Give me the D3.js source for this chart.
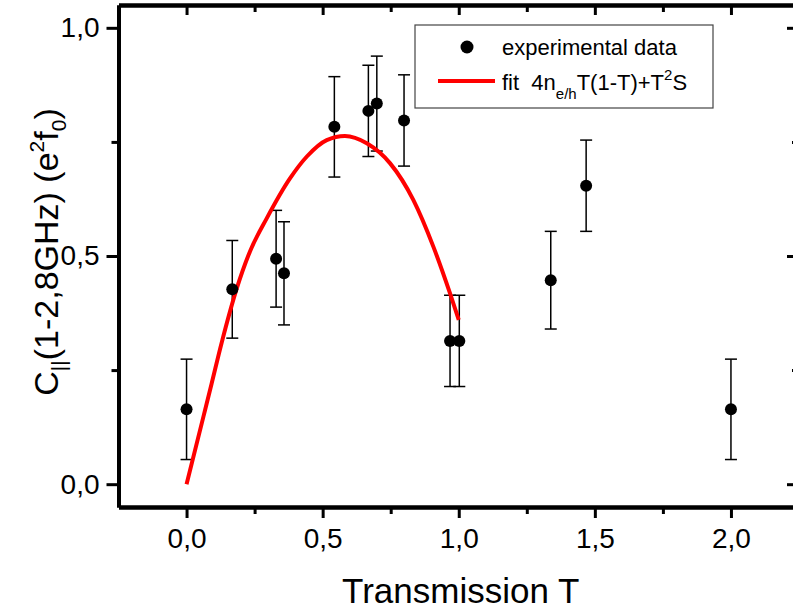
<!DOCTYPE html>
<html>
<head>
<meta charset="utf-8">
<script src="https://cdn.jsdelivr.net/npm/d3@7"></script>
<style>
  body { margin: 0; background: #fff; }
  svg { font-family: "Liberation Sans", Arial, sans-serif; }
</style>
</head>
<body>
<script>
// measured data: transmission T, noise C, error half-width
const transmission = [0, 0.168, 0.329, 0.358, 0.543, 0.668, 0.699, 0.799, 0.968, 1.002, 1.338, 1.468, 2.0];
const noiseValues = [0.164, 0.427, 0.494, 0.462, 0.783, 0.818, 0.834, 0.797, 0.314, 0.314, 0.447, 0.654, 0.164];
const noiseErrors = [0.11, 0.107, 0.106, 0.113, 0.11, 0.10, 0.104, 0.10, 0.10, 0.10, 0.107, 0.10, 0.11];

// fit curve
const fitT = [0, 0.062, 0.092, 0.129, 0.184, 0.233, 0.295, 0.38, 0.442, 0.515, 0.582, 0.662, 0.748, 0.833, 0.907, 0.968, 1.0];
const fitC = [0, 0.148, 0.22, 0.31, 0.428, 0.51, 0.583, 0.67, 0.718, 0.754, 0.763, 0.747, 0.703, 0.623, 0.52, 0.418, 0.36];

const xMajor = [0, 0.5, 1, 1.5, 2];
const xMinor = [0.25, 0.75, 1.25, 1.75];
const yMajor = [0, 0.5, 1];
const yMinor = [0.25, 0.75];

const W = 793, H = 610;
const svg = d3.select('body').append('svg')
  .attr('width', W)
  .attr('height', H);

const x = d3.scaleLinear().domain([-0.25, 2.25]).range([118.5, 799]);
const y = d3.scaleLinear().domain([-0.05, 1.05]).range([507, 5]);
const fmt = d => d3.format('.1f')(d).replace('.', ',');

// axes: left/bottom ticks outward, top/right inward
function styleAxis(g) {
  g.select('.domain').attr('stroke', '#000').attr('stroke-width', 4);
  g.selectAll('.tick line').attr('stroke', '#000').attr('stroke-width', 3);
  g.selectAll('.tick text').attr('fill', '#000').attr('font-size', 28)
    .attr('font-family', '"Liberation Sans", Arial, sans-serif');
}

svg.append('g')
  .attr('transform', `translate(0,${y.range()[0]})`)
  .call(d3.axisBottom(x).tickValues(xMajor).tickSize(11).tickSizeOuter(0).tickPadding(10).tickFormat(fmt))
  .call(styleAxis);
svg.append('g')
  .attr('transform', `translate(0,${y.range()[0]})`)
  .call(d3.axisBottom(x).tickValues(xMinor).tickSize(7).tickSizeOuter(0).tickFormat(''))
  .call(styleAxis);

svg.append('g')
  .attr('transform', `translate(0,${y.range()[1]})`)
  .call(d3.axisTop(x).tickValues(xMajor).tickSize(-10).tickSizeOuter(0).tickFormat(''))
  .call(styleAxis);
svg.append('g')
  .attr('transform', `translate(0,${y.range()[1]})`)
  .call(d3.axisTop(x).tickValues(xMinor).tickSize(-7).tickSizeOuter(0).tickFormat(''))
  .call(styleAxis);

svg.append('g')
  .attr('transform', `translate(${x.range()[0]},0)`)
  .call(d3.axisLeft(y).tickValues(yMajor).tickSize(12).tickSizeOuter(0).tickPadding(7).tickFormat(fmt))
  .call(styleAxis);
svg.append('g')
  .attr('transform', `translate(${x.range()[0]},0)`)
  .call(d3.axisLeft(y).tickValues(yMinor).tickSize(7).tickSizeOuter(0).tickFormat(''))
  .call(styleAxis);

svg.append('g')
  .attr('transform', `translate(${x.range()[1]},0)`)
  .call(d3.axisRight(y).tickValues(yMajor).tickSize(-12).tickSizeOuter(0).tickFormat(''))
  .call(styleAxis);
svg.append('g')
  .attr('transform', `translate(${x.range()[1]},0)`)
  .call(d3.axisRight(y).tickValues(yMinor).tickSize(-7).tickSizeOuter(0).tickFormat(''))
  .call(styleAxis);

// error bars
const pts = transmission.map((t, i) => ({ t, c: noiseValues[i], e: noiseErrors[i] }));
const capW = 6;
const eb = svg.append('g').attr('stroke', '#000').attr('stroke-width', 1.5);
pts.forEach(d => {
  eb.append('line')
    .attr('x1', x(d.t)).attr('x2', x(d.t))
    .attr('y1', y(d.c + d.e)).attr('y2', y(d.c - d.e));
  [d.c + d.e, d.c - d.e].forEach(v => {
    eb.append('line')
      .attr('x1', x(d.t) - capW).attr('x2', x(d.t) + capW)
      .attr('y1', y(v)).attr('y2', y(v));
  });
});

// fit curve
const fitData = fitT.map((t, i) => [t, fitC[i]]);
svg.append('path')
  .datum(fitData)
  .attr('fill', 'none')
  .attr('stroke', '#ff0000')
  .attr('stroke-width', 4)
  .attr('d', d3.line().x(d => x(d[0])).y(d => y(d[1])).curve(d3.curveMonotoneX));

// data points
svg.selectAll('.point')
  .data(pts)
  .enter().append('circle')
  .attr('class', 'point')
  .attr('cx', d => x(d.t))
  .attr('cy', d => y(d.c))
  .attr('r', 6)
  .attr('fill', '#000');

// axis titles
svg.append('text')
  .attr('x', (x.range()[0] + x.range()[1]) / 2 + 2)
  .attr('y', 603)
  .attr('text-anchor', 'middle')
  .attr('font-size', 35)
  .text('Transmission T');

const yl = svg.append('text')
  .attr('transform', 'translate(58,252) rotate(-90)')
  .attr('text-anchor', 'middle')
  .attr('font-size', 34);
yl.append('tspan').text('C');
yl.append('tspan').attr('dy', 8).attr('font-size', 21).text('||');
yl.append('tspan').attr('dy', -8).text('(1-2,8GHz) (e');
yl.append('tspan').attr('dy', -14).attr('font-size', 21).text('2');
yl.append('tspan').attr('dy', 14).text('f');
yl.append('tspan').attr('dy', 8).attr('font-size', 21).text('0');
yl.append('tspan').attr('dy', -8).text(')');

// legend
const lg = svg.append('g');
lg.append('rect')
  .attr('x', 415).attr('y', 25).attr('width', 298).attr('height', 83)
  .attr('fill', '#fff').attr('stroke', '#444').attr('stroke-width', 1.2);
lg.append('circle').attr('cx', 467).attr('cy', 47).attr('r', 6.5).attr('fill', '#000');
lg.append('text').attr('x', 502).attr('y', 55).attr('font-size', 22).text('experimental data');
lg.append('line')
  .attr('x1', 438).attr('x2', 495).attr('y1', 81).attr('y2', 81)
  .attr('stroke', '#ff0000').attr('stroke-width', 4);
const ft = lg.append('text').attr('x', 502).attr('y', 90).attr('font-size', 22)
  .style('white-space', 'pre');
ft.append('tspan').text('fit  4n');
ft.append('tspan').attr('dy', 9).attr('font-size', 15).text('e/h');
ft.append('tspan').attr('dy', -9).text('T(1-T)+T');
ft.append('tspan').attr('dy', -10).attr('font-size', 15).text('2');
ft.append('tspan').attr('dy', 10).text('S');
</script>
</body>
</html>
